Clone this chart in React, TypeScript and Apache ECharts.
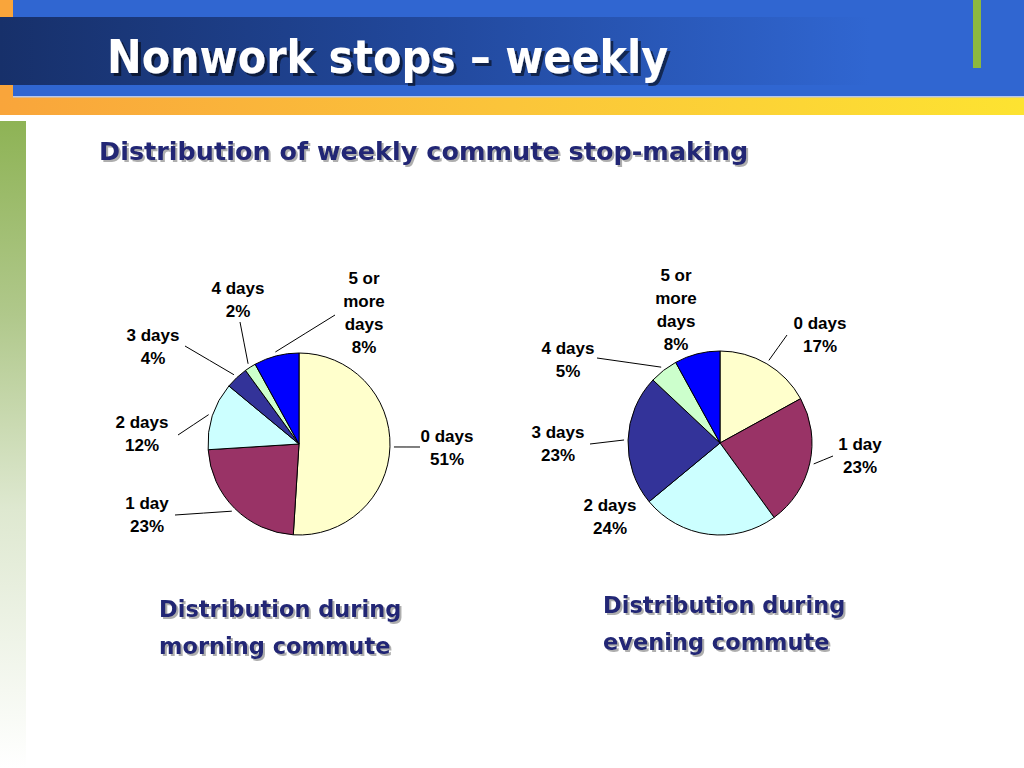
import React, { useEffect, useRef } from "react";
import * as echarts from "echarts";

// ---- data ----
const categories = ["0 days", "1 day", "2 days", "3 days", "4 days", "5 or\nmore\ndays"];
const morningShares = [51, 23, 12, 4, 2, 8];
const eveningShares = [17, 23, 24, 23, 5, 8];
const sliceColors = ["#FFFFCC", "#993366", "#CCFFFF", "#333399", "#CCFFCC", "#0000FF"];

const titleText = "Nonwork stops \u2013 weekly";
const subtitleText = "Distribution of weekly commute stop-making";
const morningCaption = "Distribution during\nmorning commute";
const eveningCaption = "Distribution during\nevening commute";

// ---- layout (label centres and leader ends relative to pie centre) ----
const PIE_L = { cx: 299, cy: 444, r: 91 };
const PIE_R = { cx: 720, cy: 443, r: 92 };
const labelPosL: [number, number][] = [[148, 4], [-152, 71], [-157, -10], [-146, -97], [-61, -144], [65, -131]];
const lineEndL: ([number, number] | null)[] = [[121, 3], [-124, 71], [-121, -9], [-114, -98], [-59, -122], [36, -129]];
const labelPosR: [number, number][] = [[100, -108], [140, 13], [-110, 74], [-162, 1], [-152, -83], [-44, -133]];
const lineEndR: ([number, number] | null)[] = [[67, -108], [113, 13], null, [-130, 1], [-123, -85], null];

const NAVY = "#202674";

function makePie(values: number[], pie: { cx: number; cy: number; r: number }, pos: [number, number][], ends: ([number, number] | null)[]) {
  return {
    type: "pie",
    center: [pie.cx, pie.cy],
    radius: pie.r,
    startAngle: 90,
    clockwise: true,
    avoidLabelOverlap: false,
    itemStyle: { borderColor: "#000", borderWidth: 1 },
    label: {
      show: true,
      position: "outside",
      formatter: "{b}\n{c}%",
      color: "#000",
      fontFamily: "Liberation Sans, Arial, sans-serif",
      fontWeight: "bold",
      fontSize: 17,
      lineHeight: 23,
      align: "center",
    },
    labelLine: { show: true, lineStyle: { color: "#000", width: 1 } },
    emphasis: { disabled: true },
    labelLayout: (params: any) => {
      const i = params.dataIndex;
      const p = pos[i];
      const e = ends[i];
      const res: any = {
        x: pie.cx + p[0],
        y: pie.cy + p[1],
        align: "center",
        verticalAlign: "middle",
      };
      if (e && params.labelLinePoints) {
        const s = params.labelLinePoints[0];
        const dx = s[0] - pie.cx;
        const dy = s[1] - pie.cy;
        const d = Math.sqrt(dx * dx + dy * dy) || 1;
        const start = [pie.cx + (dx / d) * (pie.r + 4), pie.cy + (dy / d) * (pie.r + 4)];
        const end = [pie.cx + e[0], pie.cy + e[1]];
        res.labelLinePoints = [start, [(start[0] + end[0]) / 2, (start[1] + end[1]) / 2], end];
      }
      return res;
    },
    data: values.map((v, i) => ({
      name: categories[i],
      value: v,
      itemStyle: { color: sliceColors[i] },
      labelLine: { show: ends[i] !== null },
    })),
  };
}

export default function App() {
  const ref = useRef<HTMLDivElement>(null);
  useEffect(() => {
    document.body.style.margin = "0";
    const chart = echarts.init(ref.current!, null, { renderer: "svg" });
    const shadowText = (color: string, off: number) => ({
      textShadowColor: color,
      textShadowOffsetX: off,
      textShadowOffsetY: off,
      textShadowBlur: 1,
    });
    chart.setOption({
      animation: false,
      backgroundColor: "#FFFFFF",
      graphic: [
        // header
        { type: "rect", z: -10, shape: { x: 0, y: 0, width: 1024, height: 97 }, style: { fill: "#3066D1" }, silent: true },
        { type: "rect", z: -9, shape: { x: 0, y: 0, width: 13, height: 115 }, style: { fill: "#F9A53B" }, silent: true },
        {
          type: "rect", z: -8, shape: { x: 0, y: 17, width: 1024, height: 68 }, silent: true,
          style: {
            fill: new echarts.graphic.LinearGradient(0, 0, 1, 0, [
              { offset: 0, color: "#17306A" },
              { offset: 0.4, color: "#21479A" },
              { offset: 0.85, color: "#3066D1" },
              { offset: 1, color: "#3066D1" },
            ]),
          },
        },
        {
          type: "rect", z: -8, shape: { x: 0, y: 97, width: 1024, height: 18 }, silent: true,
          style: {
            fill: new echarts.graphic.LinearGradient(0, 0, 1, 0, [
              { offset: 0, color: "#F9A53B" },
              { offset: 0.5, color: "#FBC53A" },
              { offset: 1, color: "#FDE331" },
            ]),
          },
        },
        { type: "rect", z: -7, shape: { x: 13, y: 96, width: 1011, height: 1.5 }, style: { fill: "#B9C7E8" }, silent: true },
        { type: "rect", z: -7, shape: { x: 973, y: 0, width: 8, height: 68 }, style: { fill: "#8DB83E" }, silent: true },
        // left green bar
        {
          type: "rect", z: -8, shape: { x: 0, y: 121, width: 26, height: 647 }, silent: true,
          style: {
            fill: new echarts.graphic.LinearGradient(0, 0, 0, 1, [
              { offset: 0, color: "#8EB355" },
              { offset: 0.3, color: "#B0C88B" },
              { offset: 0.6, color: "#DEE8D0" },
              { offset: 1, color: "#FFFFFF" },
            ]),
          },
        },
        // title
        {
          type: "text", x: 107, y: 57, silent: true,
          style: {
            text: titleText, fill: "#FFFFFF", fontFamily: "DejaVu Sans Condensed, DejaVu Sans, sans-serif",
            fontWeight: "bold", fontSize: 46, verticalAlign: "middle", align: "left",
            ...shadowText("rgba(0,0,0,0.55)", 3),
          },
        },
        {
          type: "text", x: 99, y: 151, silent: true,
          style: {
            text: subtitleText, fill: NAVY, fontFamily: "DejaVu Sans, sans-serif",
            fontWeight: "bold", fontSize: 25.5, verticalAlign: "middle", align: "left",
            ...shadowText("rgba(120,120,120,0.6)", 2),
          },
        },
        {
          type: "text", x: 159, y: 590, silent: true,
          style: {
            text: morningCaption, fill: NAVY, fontFamily: "DejaVu Sans, sans-serif",
            fontWeight: "bold", fontSize: 22.5, lineHeight: 37, verticalAlign: "top", align: "left",
            ...shadowText("rgba(120,120,120,0.6)", 2),
          },
        },
        {
          type: "text", x: 603, y: 586, silent: true,
          style: {
            text: eveningCaption, fill: NAVY, fontFamily: "DejaVu Sans, sans-serif",
            fontWeight: "bold", fontSize: 22.5, lineHeight: 37, verticalAlign: "top", align: "left",
            ...shadowText("rgba(120,120,120,0.6)", 2),
          },
        },
      ],
      series: [
        makePie(morningShares, PIE_L, labelPosL, lineEndL),
        makePie(eveningShares, PIE_R, labelPosR, lineEndR),
      ],
    });
    return () => chart.dispose();
  }, []);
  return <div ref={ref} style={{ width: 1024, height: 768 }} />;
}
